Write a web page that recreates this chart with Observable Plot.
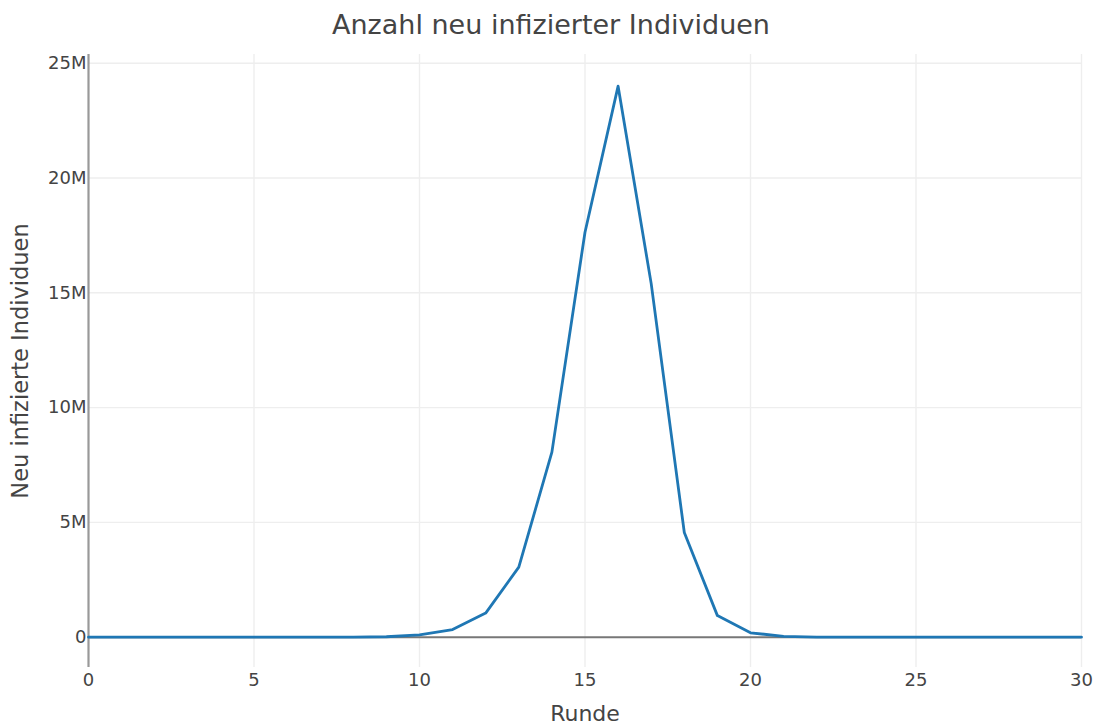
<!DOCTYPE html>
<html>
<head>
<meta charset="utf-8">
<script src="https://cdn.jsdelivr.net/npm/d3@7"></script>
<script src="https://cdn.jsdelivr.net/npm/@observablehq/plot@0.6"></script>
<style>
  html, body { margin: 0; padding: 0; background: #fff; }
  #wrap { width: 1094px; font-family: "DejaVu Sans", Verdana, sans-serif; }
  #title { height: 40px; box-sizing: border-box; padding-top: 10px; font-size: 27px; line-height: 30px; color: #444; text-align: center; padding-left: 8px; white-space: nowrap; }
  svg { display: block; }
</style>
</head>
<body>
<div id="wrap">
  <div id="title">Anzahl neu infizierter Individuen</div>
  <div id="chart"></div>
</div>
<script>
const runden = [0,1,2,3,4,5,6,7,8,9,10,11,12,13,14,15,16,17,18,19,20,21,22,23,24,25,26,27,28,29,30];
const neuInfiziert = [1, 2, 5, 12, 30, 80, 200, 600, 2000, 20000, 100000, 330000, 1050000, 3050000, 8060000, 17640000, 24000000, 15400000, 4560000, 940000, 190000, 40000, 7000, 1200, 200, 30, 5, 1, 0, 0, 0];
const xTicks = [0, 5, 10, 15, 20, 25, 30];
const yTicks = [0, 5000000, 10000000, 15000000, 20000000, 25000000];
const yTickLabels = ["0", "5M", "10M", "15M", "20M", "25M"];
const xLabel = "Runde";
const yLabel = "Neu infizierte Individuen";

const data = runden.map((r, i) => ({runde: r, neu: neuInfiziert[i]}));
const textColor = "#444";

const chart = Plot.plot({
  width: 1094,
  height: 688,
  marginTop: 14,
  marginBottom: 61,
  marginLeft: 88,
  marginRight: 13,
  style: {fontFamily: "DejaVu Sans, Verdana, sans-serif", color: textColor, background: "#fff"},
  x: {domain: [0, 30]},
  y: {domain: [-1320000, 25380000]},
  marks: [
    Plot.gridX(xTicks.filter(d => d > 0), {stroke: "#eee", strokeOpacity: 1, strokeWidth: 1.4}),
    Plot.gridY(yTicks.filter(d => d > 0), {stroke: "#eee", strokeOpacity: 1, strokeWidth: 1.4}),
    Plot.ruleY([0], {stroke: "#777", strokeWidth: 2}),
    Plot.ruleX([0], {stroke: "#999", strokeWidth: 2.2}),
    Plot.line(data, {x: "runde", y: "neu", stroke: "#1f77b4", strokeWidth: 2.8, strokeLinejoin: "round"}),
    Plot.axisX(xTicks, {tickSize: 0, tickPadding: 6, fontSize: 18, fill: textColor, label: null}),
    Plot.axisY(yTicks, {tickSize: 0, tickPadding: 2, fontSize: 18, fill: textColor, label: null,
      tickFormat: d => yTickLabels[yTicks.indexOf(d)]}),
    Plot.text([xLabel], {frameAnchor: "bottom", dy: 46, lineAnchor: "middle", textAnchor: "middle", fontSize: 22, fill: textColor}),
    Plot.text([yLabel], {frameAnchor: "left", dx: -68, rotate: -90, lineAnchor: "middle", textAnchor: "middle", fontSize: 22.5, fill: textColor})
  ]
});
document.getElementById("chart").appendChild(chart);
</script>
</body>
</html>
